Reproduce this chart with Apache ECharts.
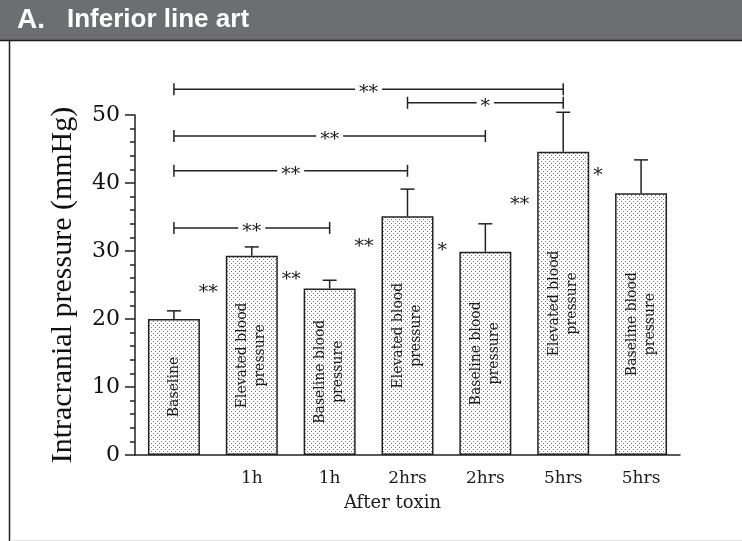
<!DOCTYPE html>
<html><head><meta charset="utf-8">
<script src="https://cdn.jsdelivr.net/npm/echarts@6/dist/echarts.min.js"></script>
<style>html,body{margin:0;padding:0;background:#fff;} #c{width:742px;height:541px;}</style>
</head><body><div id="c"></div>
<script>
// ---- data ----
const categories = ['', '1h', '1h', '2hrs', '2hrs', '5hrs', '5hrs'];
const barLabels = ['Baseline', 'Elevated blood\npressure', 'Baseline blood\npressure', 'Elevated blood\npressure', 'Baseline blood\npressure', 'Elevated blood\npressure', 'Baseline blood\npressure'];
const means = [20.0, 29.3, 24.5, 35.1, 29.9, 44.6, 38.5];
const errorTops = [21.2, 30.6, 25.7, 39.1, 34.0, 50.4, 43.4];
const bracketFrom = [0, 3, 0, 0, 0];
const bracketTo = [5, 5, 4, 3, 2];
const bracketLevel = [53.8, 51.8, 46.9, 41.8, 33.4];
const bracketMark = ['**', '*', '**', '**', '**'];
const starBar = [1, 1, 3, 3, 5, 5];
const starSide = [-1, 1, -1, 1, -1, 1];
const starLevel = [24.4, 26.3, 31.2, 30.6, 37.4, 41.6];
const starMark = ['**', '**', '**', '*', '**', '*'];
const titleLetter = 'A.';
const titleText = 'Inferior line art';
const yName = 'Intracranial pressure (mmHg)';
const xName = 'After toxin';

// ---- styling ----
const INK = '#222';
const TXT = '#1a1a1a';
const BAR_W = 52;
const pc = document.createElement('canvas');
pc.width = 4; pc.height = 4;
const ctx = pc.getContext('2d');
ctx.fillStyle = '#ffffff'; ctx.fillRect(0, 0, 4, 4);
ctx.fillStyle = '#7a7a7a';
ctx.fillRect(1, 1, 1, 1); ctx.fillRect(3, 3, 1, 1);

const chart = echarts.init(document.getElementById('c'), null, {renderer: 'canvas'});

const option = {
  animation: false,
  backgroundColor: '#fff',
  grid: {left: 135, right: 62, top: 115, bottom: 86, containLabel: false},
  graphic: [
    {type: 'rect', shape: {x: 0, y: 0, width: 742, height: 40}, style: {fill: '#6d6e71'}, silent: true},
    {type: 'line', shape: {x1: 0, y1: 40.5, x2: 742, y2: 40.5}, style: {stroke: '#1a1a1a', lineWidth: 1.5}},
    {type: 'line', shape: {x1: 9.5, y1: 40, x2: 9.5, y2: 541}, style: {stroke: '#222', lineWidth: 1.5}},
    {type: 'line', shape: {x1: 10, y1: 540.5, x2: 742, y2: 540.5}, style: {stroke: '#e4e4e4', lineWidth: 1}},
    {type: 'text', x: 17, y: 20, style: {text: titleLetter, fill: '#fff', font: 'bold 28px "Liberation Sans", Arial, sans-serif', verticalAlign: 'middle'}},
    {type: 'text', x: 67, y: 20, style: {text: titleText, fill: '#fff', font: 'bold 26px "Liberation Sans", Arial, sans-serif', verticalAlign: 'middle'}}
  ],
  xAxis: {
    type: 'category', data: categories,
    axisLine: {show: true, lineStyle: {color: INK, width: 1.5}},
    axisTick: {show: false},
    axisLabel: {fontFamily: 'DejaVu Serif', fontSize: 17, color: TXT, margin: 15},
    name: xName, nameLocation: 'middle', nameGap: 39,
    nameTextStyle: {fontFamily: 'DejaVu Serif', fontSize: 18, color: TXT, padding: [0, 30, 0, 0]}
  },
  yAxis: {
    type: 'value', min: 0, max: 50, interval: 10,
    axisLine: {show: true, lineStyle: {color: INK, width: 1.5}},
    axisTick: {show: true, inside: false, length: 10, lineStyle: {color: INK, width: 1.5}},
    minorTick: {show: true, splitNumber: 5, length: 5, lineStyle: {color: INK, width: 1.5}},
    splitLine: {show: false},
    axisLabel: {fontFamily: 'DejaVu Serif', fontSize: 22, color: '#111', margin: 15},
    name: yName, nameLocation: 'middle', nameGap: 57,
    nameTextStyle: {fontFamily: 'Liberation Serif', fontSize: 30, color: '#111'}
  },
  series: [
    {
      type: 'bar', data: means, barWidth: BAR_W,
      itemStyle: {color: {image: pc, repeat: 'repeat'}, borderColor: INK, borderWidth: 1.5},
      label: {
        show: true, position: 'inside', rotate: 90,
        formatter: p => barLabels[p.dataIndex],
        fontFamily: 'DejaVu Serif', fontSize: 14, lineHeight: 18, color: TXT
      },
      z: 2
    },
    {
      type: 'custom', z: 3,
      data: means.map((m, i) => [i, m, errorTops[i]]),
      encode: {x: 0, y: [1, 2]},
      renderItem: (params, api) => {
        const a = api.coord([api.value(0), api.value(1)]);
        const b = api.coord([api.value(0), api.value(2)]);
        const st = {stroke: INK, lineWidth: 1.5};
        return {type: 'group', children: [
          {type: 'line', shape: {x1: a[0], y1: a[1], x2: b[0], y2: b[1]}, style: st},
          {type: 'line', shape: {x1: b[0] - 7, y1: b[1], x2: b[0] + 7, y2: b[1]}, style: st}
        ]};
      }
    },
    {
      type: 'custom', z: 4, clip: false,
      data: bracketFrom.map((f, i) => [f, bracketTo[i], bracketLevel[i], i]),
      encode: {x: [0, 1], y: 2},
      renderItem: (params, api) => {
        const a = api.coord([api.value(0), api.value(2)]);
        const b = api.coord([api.value(1), api.value(2)]);
        const idx = api.value(3);
        const y = a[1];
        const st = {stroke: INK, lineWidth: 1.5};
        return {type: 'group', children: [
          {type: 'line', shape: {x1: a[0], y1: y, x2: b[0], y2: y}, style: st},
          {type: 'line', shape: {x1: a[0], y1: y - 6, x2: a[0], y2: y + 6}, style: st},
          {type: 'line', shape: {x1: b[0], y1: y - 6, x2: b[0], y2: y + 6}, style: st},
          {type: 'text', x: (a[0] + b[0]) / 2, y: y + 4, z2: 10,
           style: {text: bracketMark[idx], fill: TXT, font: '19px "DejaVu Serif"', align: 'center', verticalAlign: 'middle', backgroundColor: '#fff', padding: [0, 4]}}
        ]};
      }
    },
    {
      type: 'custom', z: 4, clip: false,
      data: starBar.map((b, i) => [b, starLevel[i], starSide[i], i]),
      encode: {x: 0, y: 1},
      renderItem: (params, api) => {
        const p = api.coord([api.value(0), api.value(1)]);
        const side = api.value(2);
        const idx = api.value(3);
        const x = side < 0 ? p[0] - BAR_W / 2 - 8 : p[0] + BAR_W / 2 + 4;
        return {type: 'text', x: x, y: p[1] + 4,
          style: {text: starMark[idx], fill: TXT, font: '19px "DejaVu Serif"', align: side < 0 ? 'right' : 'left', verticalAlign: 'middle'}};
      }
    }
  ]
};
chart.setOption(option);
</script>
</body></html>
